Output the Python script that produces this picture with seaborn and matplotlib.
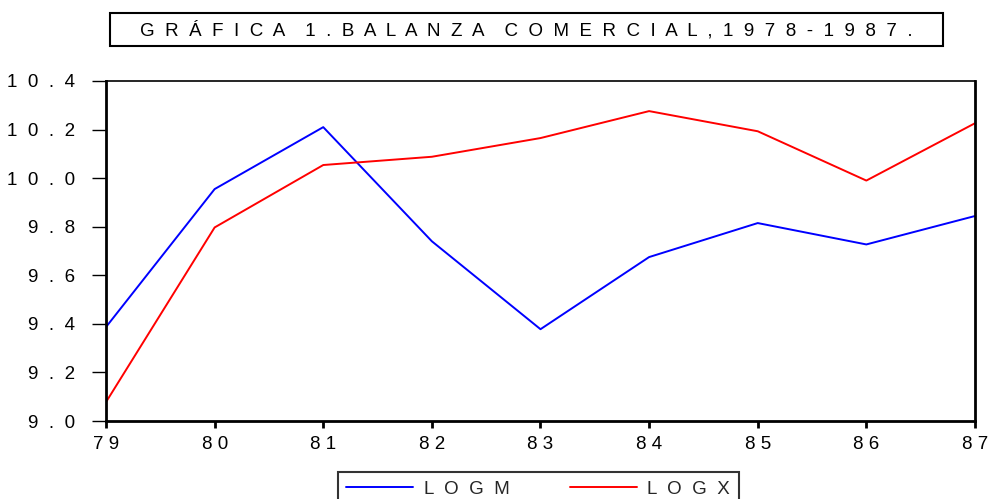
import matplotlib
matplotlib.use("Agg")
import matplotlib.pyplot as plt
from matplotlib.patches import Rectangle
import seaborn as sns
import pandas as pd

years = [1979, 1980, 1981, 1982, 1983, 1984, 1985, 1986, 1987]
year_labels = ["7 9", "8 0", "8 1", "8 2", "8 3", "8 4", "8 5", "8 6", "8 7"]
logm = [9.387, 9.955, 10.210, 9.740, 9.378, 9.675, 9.815, 9.727, 9.844]
logx = [9.078, 9.797, 10.054, 10.088, 10.165, 10.276, 10.193, 9.990, 10.226]
y_ticks = [9.0, 9.2, 9.4, 9.6, 9.8, 10.0, 10.2, 10.4]
y_labels = ["9  .  0", "9  .  2", "9  .  4", "9  .  6", "9  .  8",
            "1  0  .  0", "1  0  .  2", "1  0  .  4"]
series_names = ["L  O  G  M", "L  O  G  X"]
title = ("G  R  Á  F  I  C  A    1  .  B  A  L  A  N  Z  A    "
         "C  O  M  E  R  C  I  A  L  ,  1  9  7  8  -  1  9  8  7  .")

df = pd.DataFrame({
    "year": years * 2,
    "value": logm + logx,
    "series": [series_names[0]] * len(years) + [series_names[1]] * len(years),
})

sns.set_theme(style="white")
plt.rcParams["font.family"] = ["Liberation Sans", "DejaVu Sans"]

fig = plt.figure(figsize=(9.89, 4.99), dpi=100)
ax = fig.add_axes([0.1072, 0.1563, 0.8786, 0.6814])

colors = {series_names[0]: "#0000ff", series_names[1]: "#ff0000"}
sns.lineplot(data=df, x="year", y="value", hue="series", palette=colors,
             linewidth=1.4, ax=ax, legend=False)

ax.set_xlim(years[0], years[-1])
ax.set_ylim(y_ticks[0], y_ticks[-1])
ax.set_xticks(years)
ax.set_xticklabels(year_labels)
ax.set_yticks(y_ticks)
ax.set_yticklabels(y_labels)
ax.set_xlabel("")
ax.set_ylabel("")

for side in ["left", "bottom", "right"]:
    ax.spines[side].set_linewidth(2.0)
    ax.spines[side].set_color("black")
ax.spines["top"].set_linewidth(1.2)
ax.spines["top"].set_color("black")

ax.tick_params(axis="y", direction="out", length=10, width=1.0, pad=12,
               labelsize=13.5, colors="black", left=True)
ax.tick_params(axis="x", direction="out", length=5, width=2.0, pad=6,
               labelsize=13.5, colors="black", bottom=True)

# Title in a framed box
fig.patches.append(Rectangle((110 / 989, 1 - 46 / 499), 833 / 989, 33 / 499,
                             transform=fig.transFigure, fill=False,
                             edgecolor="black", linewidth=1.5))
fig.text(526 / 989, 1 - 30 / 499, title, ha="center", va="center",
         fontsize=13.5, color="black")

# Legend below the axes
handles = [plt.Line2D([], [], color=colors[n], linewidth=1.4) for n in series_names]
leg = fig.legend(handles, series_names, loc="upper center",
                 bbox_to_anchor=(538 / 989, 1 - 472 / 499), ncol=2,
                 frameon=True, fancybox=False, fontsize=13.5,
                 handlelength=3.6, handletextpad=0.55, columnspacing=3.2,
                 borderpad=0.45, borderaxespad=0)
leg.get_frame().set_edgecolor("black")
leg.get_frame().set_linewidth(1.5)

fig.savefig("out.png", dpi=100)
